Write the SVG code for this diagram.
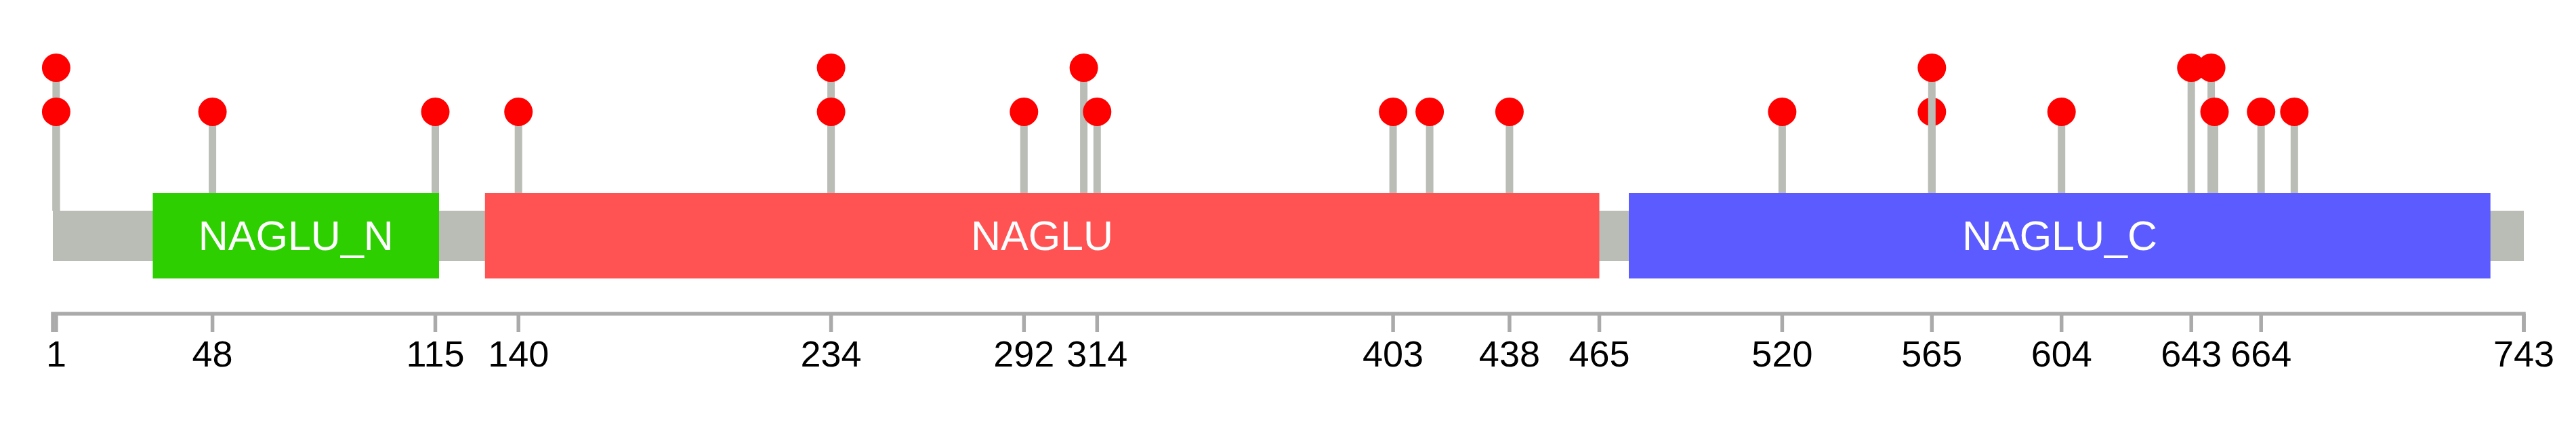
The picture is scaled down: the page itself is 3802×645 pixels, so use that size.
<svg xmlns="http://www.w3.org/2000/svg" width="3802" height="645" viewBox="0 0 3802 645">
<style>
.bb{fill:#babdb6}
.dom{stroke:none}
.dl{font-family:"Liberation Sans",Arial,sans-serif;font-size:61px;fill:#ffffff;text-anchor:middle}
.st{stroke:#babdb6;stroke-width:11;fill:none}
.dot{fill:#ff0000}
.ax{stroke:#aaaaaa;stroke-width:5.5;fill:none}
.tk{stroke:#aaaaaa;stroke-width:5.5}
.al{font-family:"Liberation Sans",Arial,sans-serif;font-size:54px;fill:#000000;text-anchor:middle}
</style>
<rect width="3802" height="645" fill="#ffffff"/>
<g id="backbone"><rect class="bb" x="78" y="311" width="3647" height="74"/></g>
<g id="NAGLU_N"><rect class="dom" x="225.5" y="285" width="422.5" height="126" fill="#2dcf00"/><text class="dl" x="436.8" y="369">NAGLU_N</text></g>
<g id="NAGLU"><rect class="dom" x="715.8" y="285" width="1644.7" height="126" fill="#ff5353"/><text class="dl" x="1538" y="369">NAGLU</text></g>
<g id="NAGLU_C"><rect class="dom" x="2404" y="285" width="1271.7" height="126" fill="#5b5bff"/><text class="dl" x="3040" y="369">NAGLU_C</text></g>
<g id="connectors">
<line class="st" x1="82.9" y1="100" x2="82.9" y2="311"/><circle class="dot" cx="82.9" cy="100" r="21"/>
<line class="st" x1="82.9" y1="165" x2="82.9" y2="311"/><circle class="dot" cx="82.9" cy="165" r="21"/>
<line class="st" x1="313.6" y1="165" x2="313.6" y2="285"/><circle class="dot" cx="313.6" cy="165" r="21"/>
<line class="st" x1="642.5" y1="165" x2="642.5" y2="285"/><circle class="dot" cx="642.5" cy="165" r="21"/>
<line class="st" x1="765.2" y1="165" x2="765.2" y2="285"/><circle class="dot" cx="765.2" cy="165" r="21"/>
<line class="st" x1="1226.6" y1="100" x2="1226.6" y2="285"/><circle class="dot" cx="1226.6" cy="100" r="21"/>
<line class="st" x1="1226.6" y1="165" x2="1226.6" y2="285"/><circle class="dot" cx="1226.6" cy="165" r="21"/>
<line class="st" x1="1511.3" y1="165" x2="1511.3" y2="285"/><circle class="dot" cx="1511.3" cy="165" r="21"/>
<line class="st" x1="1599.6" y1="100" x2="1599.6" y2="285"/><circle class="dot" cx="1599.6" cy="100" r="21"/>
<line class="st" x1="1619.3" y1="165" x2="1619.3" y2="285"/><circle class="dot" cx="1619.3" cy="165" r="21"/>
<line class="st" x1="2056.1" y1="165" x2="2056.1" y2="285"/><circle class="dot" cx="2056.1" cy="165" r="21"/>
<line class="st" x1="2110.1" y1="165" x2="2110.1" y2="285"/><circle class="dot" cx="2110.1" cy="165" r="21"/>
<line class="st" x1="2227.9" y1="165" x2="2227.9" y2="285"/><circle class="dot" cx="2227.9" cy="165" r="21"/>
<line class="st" x1="2630.4" y1="165" x2="2630.4" y2="285"/><circle class="dot" cx="2630.4" cy="165" r="21"/>
<line class="st" x1="2851.3" y1="165" x2="2851.3" y2="285"/><circle class="dot" cx="2851.3" cy="165" r="21"/>
<line class="st" x1="2851.3" y1="100" x2="2851.3" y2="285"/><circle class="dot" cx="2851.3" cy="100" r="21"/>
<line class="st" x1="3042.7" y1="165" x2="3042.7" y2="285"/><circle class="dot" cx="3042.7" cy="165" r="21"/>
<line class="st" x1="3234.2" y1="100" x2="3234.2" y2="285"/><circle class="dot" cx="3234.2" cy="100" r="21"/>
<line class="st" x1="3263.6" y1="100" x2="3263.6" y2="285"/><circle class="dot" cx="3263.6" cy="100" r="21"/>
<line class="st" x1="3268.5" y1="165" x2="3268.5" y2="285"/><circle class="dot" cx="3268.5" cy="165" r="21"/>
<line class="st" x1="3337.2" y1="165" x2="3337.2" y2="285"/><circle class="dot" cx="3337.2" cy="165" r="21"/>
<line class="st" x1="3386.3" y1="165" x2="3386.3" y2="285"/><circle class="dot" cx="3386.3" cy="165" r="21"/>
</g>
<g id="axis">
<path class="ax" d="M78,490 V463 H3725 V490"/>
<g class="tk">
<line x1="82.9" y1="463" x2="82.9" y2="490"/>
<line x1="313.6" y1="463" x2="313.6" y2="490"/>
<line x1="642.5" y1="463" x2="642.5" y2="490"/>
<line x1="765.2" y1="463" x2="765.2" y2="490"/>
<line x1="1226.6" y1="463" x2="1226.6" y2="490"/>
<line x1="1511.3" y1="463" x2="1511.3" y2="490"/>
<line x1="1619.3" y1="463" x2="1619.3" y2="490"/>
<line x1="2056.1" y1="463" x2="2056.1" y2="490"/>
<line x1="2227.9" y1="463" x2="2227.9" y2="490"/>
<line x1="2360.5" y1="463" x2="2360.5" y2="490"/>
<line x1="2630.4" y1="463" x2="2630.4" y2="490"/>
<line x1="2851.3" y1="463" x2="2851.3" y2="490"/>
<line x1="3042.7" y1="463" x2="3042.7" y2="490"/>
<line x1="3234.2" y1="463" x2="3234.2" y2="490"/>
<line x1="3337.2" y1="463" x2="3337.2" y2="490"/>
<line x1="3725" y1="463" x2="3725" y2="490"/>
</g>
<text class="al" x="82.9" y="541">1</text>
<text class="al" x="313.6" y="541">48</text>
<text class="al" x="642.5" y="541">115</text>
<text class="al" x="765.2" y="541">140</text>
<text class="al" x="1226.6" y="541">234</text>
<text class="al" x="1511.3" y="541">292</text>
<text class="al" x="1619.3" y="541">314</text>
<text class="al" x="2056.1" y="541">403</text>
<text class="al" x="2227.9" y="541">438</text>
<text class="al" x="2360.5" y="541">465</text>
<text class="al" x="2630.4" y="541">520</text>
<text class="al" x="2851.3" y="541">565</text>
<text class="al" x="3042.7" y="541">604</text>
<text class="al" x="3234.2" y="541">643</text>
<text class="al" x="3337.2" y="541">664</text>
<text class="al" x="3725" y="541">743</text>
</g>
</svg>
